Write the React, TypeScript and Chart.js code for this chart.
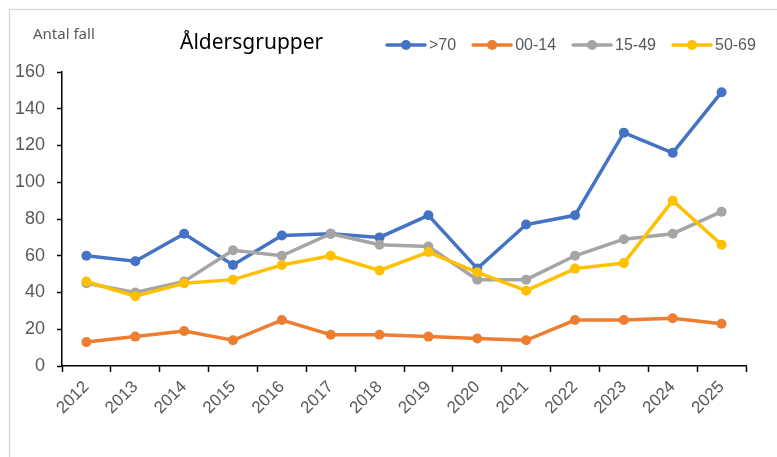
import React, { useEffect, useRef } from "react";
import { Chart, registerables } from "chart.js";

Chart.register(...registerables);

const years = ["2012","2013","2014","2015","2016","2017","2018","2019","2020","2021","2022","2023","2024","2025"];
const seriesNames = [">70", "00-14", "15-49", "50-69"];
const over70 = [60, 57, 72, 55, 71, 72, 70, 82, 53, 77, 82, 127, 116, 149];
const age00to14 = [13, 16, 19, 14, 25, 17, 17, 16, 15, 14, 25, 25, 26, 23];
const age15to49 = [45, 40, 46, 63, 60, 72, 66, 65, 47, 47, 60, 69, 72, 84];
const age50to69 = [46, 38, 45, 47, 55, 60, 52, 62, 51, 41, 53, 56, 90, 66];
const colors = ["#4472C4", "#ED7D31", "#A5A5A5", "#FFC000"];
const titleText = "Åldersgrupper";
const yAxisText = "Antal fall";

const W = 777;
const H = 457;

export default function App() {
  const ref = useRef<HTMLCanvasElement | null>(null);

  useEffect(() => {
    if (!ref.current) return;
    const values = [over70, age00to14, age15to49, age50to69];

    const decor = {
      id: "decor",
      beforeDraw(chart: any) {
        const ctx = chart.ctx;
        ctx.save();
        ctx.fillStyle = "#ffffff";
        ctx.fillRect(0, 0, chart.width, chart.height);
        ctx.strokeStyle = "#d9d9d9";
        ctx.lineWidth = 1.5;
        ctx.strokeRect(9.5, 9.5, chart.width + 20, chart.height + 20);
        ctx.restore();
      },
      afterDraw(chart: any) {
        const ctx = chart.ctx;
        ctx.save();
        ctx.fillStyle = "#000000";
        ctx.font = "21px 'Noto Sans'";
        ctx.textBaseline = "middle";
        ctx.textAlign = "left";
        ctx.fillText(titleText, 180, 43);
        ctx.fillStyle = "#595959";
        ctx.font = "15px 'Noto Sans'";
        ctx.fillText(yAxisText, 33, 35);
        ctx.font = "16px 'Liberation Sans'";
        let x = 387;
        const y = 45;
        seriesNames.forEach((name, i) => {
          ctx.strokeStyle = colors[i];
          ctx.lineWidth = 3.5;
          ctx.lineCap = "round";
          ctx.beginPath();
          ctx.moveTo(x, y);
          ctx.lineTo(x + 38, y);
          ctx.stroke();
          ctx.fillStyle = colors[i];
          ctx.beginPath();
          ctx.arc(x + 19, y, 5, 0, Math.PI * 2);
          ctx.fill();
          ctx.fillStyle = "#595959";
          ctx.fillText(name, x + 42, y + 1);
          x += 42 + ctx.measureText(name).width + 17;
        });
        ctx.restore();
      },
    };

    const chart = new Chart(ref.current, {
      type: "line",
      data: {
        labels: years,
        datasets: seriesNames.map((name, i) => ({
          label: name,
          data: values[i],
          borderColor: colors[i],
          backgroundColor: colors[i],
          borderWidth: 3.5,
          pointRadius: 5,
          pointBorderWidth: 0,
          pointBackgroundColor: colors[i],
          tension: 0,
          order: 3 - i,
        })),
      },
      options: {
        animation: false,
        responsive: false,
        maintainAspectRatio: false,
        devicePixelRatio: 1,
        layout: { padding: { left: 0, right: 31, top: 72, bottom: 0 } },
        plugins: {
          legend: { display: false },
          title: { display: false },
          tooltip: { enabled: false },
        },
        scales: {
          x: {
            type: "category",
            offset: true,
            grid: {
              offset: true,
              drawOnChartArea: false,
              drawTicks: true,
              tickLength: 6,
              tickWidth: 1.5,
              tickColor: "#000000",
            },
            border: { display: true, color: "#000000", width: 1.5 },
            ticks: {
              color: "#595959",
              font: { family: "'Liberation Sans'", size: 17 },
              maxRotation: 45,
              minRotation: 45,
              autoSkip: false,
              padding: 5,
            },
            afterFit(scale: any) {
              scale.height = H - 366;
            },
          },
          y: {
            min: 0,
            max: 160,
            grid: {
              drawOnChartArea: false,
              drawTicks: true,
              tickLength: 5,
              tickWidth: 1.5,
              tickColor: "#000000",
            },
            border: { display: true, color: "#000000", width: 1.5 },
            ticks: {
              stepSize: 20,
              color: "#595959",
              font: { family: "'Liberation Sans'", size: 18 },
              padding: 12,
            },
            afterFit(scale: any) {
              scale.width = 62;
            },
          },
        },
      },
      plugins: [decor],
    });
    return () => chart.destroy();
  }, []);

  return (
    <div style={{ position: "fixed", left: 0, top: 0, width: W, height: H, background: "#fff" }}>
      <canvas ref={ref} width={W} height={H} style={{ width: W, height: H, display: "block" }} />
    </div>
  );
}
